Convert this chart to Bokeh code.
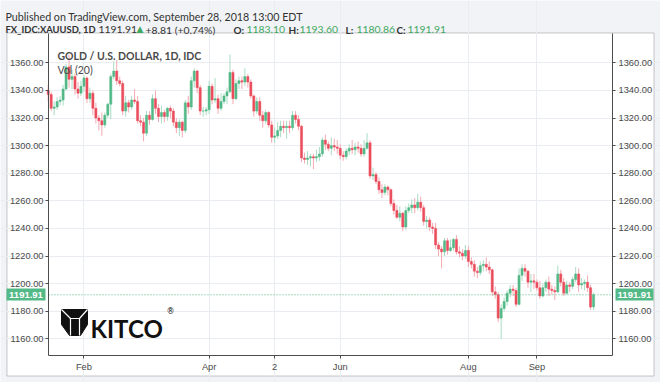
import pandas as pd
from bokeh.plotting import figure
from bokeh.models import (ColumnDataSource, Range1d, LinearAxis, FixedTicker, Grid,
                          PrintfTickFormatter, Label, BoxAnnotation)
from bokeh.embed import file_html
from bokeh.resources import INLINE

# ---------------- data (XAUUSD daily) ----------------
first_day = "2018-01-16"
last_day = "2018-09-28"

opens = [
    1340, 1337, 1327, 1328, 1332, 1333, 1341, 1357, 1348, 1350, 1341, 1338,
    1343, 1349, 1334, 1338, 1327, 1320, 1318, 1315, 1322, 1330, 1350, 1354, 1347, 1345, 1325, 1331, 1328, 1333, 1332, 1318,
    1317, 1309, 1322, 1319, 1334, 1327, 1321, 1324, 1321, 1327, 1325, 1317, 1313, 1317, 1311, 1331, 1328, 1347, 1354, 1342, 1325, 1325,
    1326, 1343, 1333, 1334, 1327, 1332, 1336, 1339, 1353, 1334, 1345, 1347, 1346, 1350, 1346, 1336, 1325, 1332, 1322, 1318, 1324,
    1315, 1306, 1307, 1311, 1314, 1313, 1314, 1313, 1322, 1319, 1314, 1291, 1290, 1291, 1292, 1291, 1292, 1294, 1304, 1301, 1298, 1300, 1299,
    1298, 1293, 1292, 1296, 1298, 1297, 1299, 1298, 1294, 1298, 1302, 1278, 1279, 1274, 1268, 1266, 1270, 1268, 1258, 1253, 1248,
    1251, 1241, 1253, 1255, 1257, 1255, 1259, 1255, 1245, 1246, 1241, 1240, 1228, 1225, 1223, 1231, 1224, 1226, 1232, 1223, 1222, 1220,
    1224, 1216, 1214, 1209, 1208, 1213, 1214, 1212, 1210, 1194, 1192, 1175, 1182, 1187, 1193, 1196, 1195, 1185, 1206, 1211, 1209, 1201, 1202,
    1201, 1197, 1191, 1197, 1201, 1196, 1195, 1194, 1207, 1201, 1193, 1199, 1198, 1203, 1207, 1199, 1200, 1201, 1197, 1183.10,
]
highs = [
    1344, 1339, 1332, 1335, 1336, 1344, 1359, 1366, 1355, 1352, 1346, 1347,
    1351, 1350, 1342, 1340, 1331, 1322, 1324, 1324, 1331, 1352, 1361, 1362, 1350, 1347, 1336, 1333, 1336, 1341, 1336, 1322,
    1320, 1325, 1325, 1337, 1340, 1330, 1329, 1326, 1328, 1329, 1327, 1320, 1319, 1318, 1333, 1336, 1350, 1356, 1355, 1344, 1328, 1328,
    1347, 1345, 1349, 1337, 1338, 1338, 1342, 1366, 1355, 1348, 1350, 1350, 1356, 1352, 1348, 1337, 1335, 1335, 1325, 1326, 1325,
    1318, 1313, 1317, 1318, 1318, 1318, 1318, 1325, 1325, 1322, 1315, 1295, 1296, 1294, 1294, 1297, 1299, 1306, 1308, 1303, 1306, 1305, 1304,
    1301, 1296, 1298, 1301, 1304, 1302, 1303, 1301, 1304, 1309, 1304, 1284, 1281, 1277, 1272, 1272, 1271, 1269, 1261, 1257, 1256,
    1252, 1256, 1258, 1261, 1262, 1265, 1263, 1257, 1249, 1248, 1244, 1244, 1230, 1227, 1233, 1233, 1232, 1233, 1235, 1227, 1225, 1228,
    1227, 1219, 1217, 1212, 1216, 1217, 1219, 1216, 1211, 1198, 1194, 1185, 1190, 1195, 1199, 1199, 1197, 1211, 1214, 1214, 1210, 1207, 1207,
    1203, 1202, 1200, 1203, 1205, 1199, 1198, 1213, 1210, 1204, 1202, 1201, 1205, 1212, 1211, 1204, 1203, 1206, 1199, 1193.60,
]
lows = [
    1332, 1325, 1322, 1326, 1329, 1329, 1340, 1342, 1341, 1337, 1334, 1336,
    1339, 1331, 1331, 1322, 1316, 1311, 1307, 1313, 1320, 1319, 1348, 1344, 1343, 1322, 1321, 1324, 1326, 1330, 1316, 1314,
    1303, 1307, 1315, 1318, 1323, 1317, 1316, 1317, 1318, 1320, 1314, 1309, 1307, 1306, 1309, 1323, 1326, 1342, 1338, 1322, 1321, 1322,
    1323, 1330, 1331, 1323, 1325, 1330, 1330, 1338, 1330, 1333, 1341, 1341, 1343, 1342, 1334, 1321, 1323, 1318, 1313, 1316, 1313,
    1302, 1302, 1305, 1306, 1309, 1305, 1309, 1311, 1316, 1311, 1288, 1287, 1286, 1285, 1283, 1288, 1289, 1292, 1297, 1296, 1293, 1296, 1294,
    1290, 1289, 1290, 1293, 1294, 1293, 1295, 1292, 1292, 1297, 1276, 1275, 1272, 1265, 1262, 1264, 1264, 1256, 1250, 1247, 1245,
    1238, 1239, 1251, 1251, 1251, 1253, 1252, 1242, 1240, 1238, 1236, 1225, 1220, 1211, 1220, 1221, 1223, 1224, 1221, 1219, 1217, 1218,
    1212, 1211, 1205, 1204, 1206, 1209, 1209, 1207, 1191, 1189, 1172, 1160, 1180, 1184, 1190, 1191, 1183, 1184, 1202, 1205, 1197, 1194, 1196,
    1195, 1189, 1190, 1194, 1191, 1192, 1188, 1193, 1198, 1191, 1192, 1194, 1196, 1201, 1194, 1196, 1195, 1194, 1181, 1180.86,
]
closes = [
    1337, 1327, 1328, 1332, 1333, 1341, 1357, 1348, 1350, 1341, 1338, 1343,
    1349, 1334, 1338, 1327, 1320, 1318, 1315, 1322, 1330, 1350, 1354, 1347, 1345, 1325, 1331, 1328, 1333, 1332, 1318, 1317,
    1309, 1322, 1319, 1334, 1327, 1321, 1324, 1321, 1327, 1325, 1317, 1313, 1317, 1311, 1331, 1328, 1347, 1354, 1342, 1325, 1325, 1326,
    1343, 1333, 1334, 1327, 1332, 1336, 1339, 1353, 1334, 1345, 1347, 1346, 1350, 1346, 1336, 1325, 1332, 1322, 1318, 1324, 1315,
    1306, 1307, 1311, 1314, 1313, 1314, 1313, 1322, 1319, 1314, 1291, 1290, 1291, 1292, 1291, 1292, 1294, 1304, 1301, 1298, 1300, 1299, 1298,
    1293, 1292, 1296, 1298, 1297, 1299, 1298, 1294, 1298, 1302, 1278, 1279, 1274, 1268, 1266, 1270, 1268, 1258, 1253, 1248, 1251,
    1241, 1253, 1255, 1257, 1255, 1259, 1255, 1245, 1246, 1241, 1240, 1228, 1225, 1223, 1231, 1224, 1226, 1232, 1223, 1222, 1220, 1224,
    1216, 1214, 1209, 1208, 1213, 1214, 1212, 1210, 1194, 1192, 1175, 1182, 1187, 1193, 1196, 1195, 1185, 1206, 1211, 1209, 1201, 1202, 1201,
    1197, 1191, 1197, 1201, 1196, 1195, 1194, 1207, 1201, 1193, 1199, 1198, 1203, 1207, 1199, 1200, 1201, 1197, 1183, 1191.91,
]

last_price = 1191.91
month_tick_dates = ["2018-02-01", "2018-04-02", "2018-05-02", "2018-06-01", "2018-08-01", "2018-09-03"]
month_tick_labels = ["Feb", "Apr", "2", "Jun", "Aug", "Sep"]
price_ticks = [1160, 1180, 1200, 1220, 1240, 1260, 1280, 1300, 1320, 1340, 1360]

header_line1 = "Published on TradingView.com, September 28, 2018 13:00 EDT"
symbol_text = "FX_IDC:XAUUSD, 1D"
change_text = "+8.81 (+0.74%)"
ohlc_text = [("O:", "1183.10"), ("H:", "1193.60"), ("L:", "1180.86"), ("C:", "1191.91")]
legend_title = "GOLD / U.S. DOLLAR, 1D, IDC"
legend_vol = "Vol (20)"

# ---------------- styling ----------------
UP = "#53b987"
DOWN = "#eb4d5c"
UP_WICK = "#a8dcc3"
DOWN_WICK = "#f4a9b1"
TXT = "#4a4a4a"
HDR = "#333333"
BG = "#f1f3f6"
FRAME = "#4d4d4d"
GRID = "#e9edf1"
HGREEN = "#41a85f"

W, H = 660, 382
# pixel geometry of the price pane inside the canvas
PL, PR, PT, PB = 48, 612, 33, 355
BAR0_PX, BAR_PX = 47.7, 2.98          # x pixel of first bar, pixels per bar
P_REF, P_REF_PX, PX_PER_USD = 1360.0, 62.3, 1.38


def dx(px):
    return (px - BAR0_PX) / BAR_PX


def dy(py):
    return P_REF - (py - P_REF_PX) / PX_PER_USD


dates = pd.bdate_range(first_day, last_day)
idx = list(range(len(dates)))
date_pos = {d.strftime("%Y-%m-%d"): i for i, d in enumerate(dates)}
tick_pos = [date_pos[d] for d in month_tick_dates]

inc = [c >= o for o, c in zip(opens, closes)]
src = ColumnDataSource(dict(
    x=idx, o=opens, h=highs, l=lows, c=closes,
    top=[max(o, c) for o, c in zip(opens, closes)],
    bot=[min(o, c) for o, c in zip(opens, closes)],
    body=[UP if u else DOWN for u in inc],
    wick=[UP_WICK if u else DOWN_WICK for u in inc],
))

p = figure(width=W, height=H, output_backend="svg", toolbar_location=None, title=None,
           x_range=Range1d(dx(0), dx(W)), y_range=Range1d(dy(H), dy(0)),
           x_axis_location=None, y_axis_location=None,
           min_border=0, min_border_left=0, min_border_right=0,
           min_border_top=0, min_border_bottom=0,
           background_fill_color=BG, border_fill_color=BG,
           outline_line_color=None)
p.grid.visible = False


def cbox(left, top, right, bottom, fill, line=None, level="image"):
    p.add_layout(BoxAnnotation(left=left, right=right, top=top, bottom=bottom,
                               left_units="canvas", right_units="canvas",
                               top_units="canvas", bottom_units="canvas",
                               fill_color=fill, fill_alpha=1.0,
                               line_color=line, line_width=1, level=level))


# white chart panel with its border
cbox(6.5, 32.5, 653.5, 375.5, "white", FRAME)

xt = FixedTicker(ticks=tick_pos)
yt = FixedTicker(ticks=price_ticks)

# grid only inside the price pane
p.add_layout(Grid(dimension=0, ticker=xt, bounds=(dy(PB), dy(PT)), grid_line_color=GRID))
p.add_layout(Grid(dimension=1, ticker=yt, bounds=(dx(PL), dx(PR)), grid_line_color=GRID))


def style_axis(ax):
    ax.axis_line_color = FRAME
    ax.major_tick_line_color = FRAME
    ax.major_tick_in = 0
    ax.major_tick_out = 3
    ax.minor_tick_line_color = None
    ax.major_label_text_color = TXT
    ax.major_label_text_font = "Liberation Sans"
    ax.major_label_text_font_size = "9.3px"


xa = LinearAxis(ticker=xt, fixed_location=dy(PB), bounds=(dx(PL), dx(PR)),
                major_label_overrides={t: lab for t, lab in zip(tick_pos, month_tick_labels)},
                major_label_standoff=3)
style_axis(xa)
p.add_layout(xa, "below")

ly = LinearAxis(ticker=yt, formatter=PrintfTickFormatter(format="%.2f"),
                fixed_location=dx(PL), bounds=(dy(PB), dy(PT)), major_label_standoff=2)
style_axis(ly)
p.add_layout(ly, "left")

ry = LinearAxis(ticker=yt, formatter=PrintfTickFormatter(format="%.2f"),
                fixed_location=dx(PR), bounds=(dy(PB), dy(PT)), major_label_standoff=3)
style_axis(ry)
p.add_layout(ry, "right")

# candles
p.segment(x0="x", x1="x", y0="l", y1="h", color="wick", line_width=1, source=src)
p.vbar(x="x", width=0.72, top="top", bottom="bot", fill_color="body",
       line_color="body", line_width=0.5, source=src)

# last price line across the pane
p.line(x=[dx(PL), dx(PR)], y=[last_price, last_price], line_color=UP,
       line_dash="1 2", line_width=1)


def clabel(x, y, text, size="11px", color=HDR, style="normal", font="Lato",
           align="left", baseline="alphabetic", **kw):
    p.add_layout(Label(x=x, y=y, x_units="canvas", y_units="canvas", text=text,
                       text_font=font, text_font_size=size, text_color=color,
                       text_font_style=style, text_align=align, text_baseline=baseline, **kw))


# price tags on both axes
for l, r in [(6, 45), (615, 653)]:
    cbox(l, 288, r, 300, UP, level="overlay")
    clabel((l + r) / 2, 294.5, "%.2f" % last_price, size="9.5px", color="white",
           style="bold", font="Liberation Sans", align="center", baseline="middle",
           level="overlay")

# header
clabel(5, 15.5, header_line1, size="10.7px")
clabel(5, 29, symbol_text, size="9.4px", style="bold")
clabel(98, 29, "%.2f" % last_price, size="10.4px")
clabel(136, 28.5, "\u25b2", size="9px", color=HGREEN, font="DejaVu Sans")
clabel(145, 29, change_text, size="10.4px")
for (k, v), xk, xv in zip(ohlc_text, [233, 288, 345, 396], [246, 299, 356, 407]):
    clabel(xk, 29, k, size="10px", style="bold")
    clabel(xv, 29, v, size="10.4px", color=HGREEN)

# legend inside chart
clabel(57, 55.5, legend_title, size="10.5px", color=TXT, style="bold")
clabel(57, 69.5, legend_vol, size="10.5px", color=TXT)

# KITCO watermark
icon = [(61, 309), (87, 309), (87, 324), (80, 335), (69, 335), (61, 324)]
p.patch([dx(a) for a, b in icon], [dy(b) for a, b in icon], fill_color="#111111",
        line_color="#111111")
for seg in [[(61, 309), (70, 318), (79, 318), (87, 309)], [(70, 318), (70, 335)], [(79, 318), (79, 335)]]:
    p.line([dx(a) for a, b in seg], [dy(b) for a, b in seg], line_color="white", line_width=1.2)
clabel(90, 328, "KITCO", size="24px", color="#111111", font="Lato", style="bold")
clabel(166, 311, "\u00ae", size="8px", color="#111111", font="DejaVu Sans")

open("out.html", "w").write(file_html(p, INLINE))
